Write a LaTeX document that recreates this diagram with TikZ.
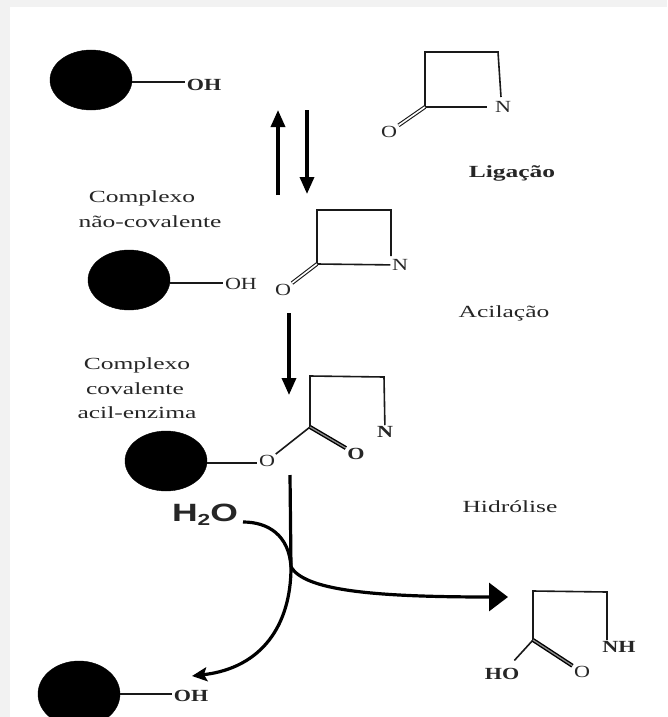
\documentclass[tikz,border=0pt]{standalone}
\usepackage{fontspec}
\setmainfont{Liberation Serif}
\newfontfamily\hfont{Liberation Sans}
\usetikzlibrary{shapes.geometric,arrows.meta}
\tikzset{
  ball/.style={ellipse,fill=black,draw=black,minimum width=82pt,minimum height=60pt,inner sep=0pt},
  atom/.style={inner sep=1pt,font=\fontsize{17}{17}\selectfont,xscale=1.3,transform shape,text=black!85},
  boldatom/.style={atom,font=\fontsize{17}{17}\selectfont\bfseries},
  lab/.style={inner sep=0pt,font=\fontsize{17}{17}\selectfont,xscale=1.5,transform shape,text=black!85},
  boldlab/.style={lab,font=\fontsize{17}{17}\selectfont\bfseries},
  bond/.style={line width=1.6pt,black!90},
  dbl/.style={line width=1.1pt,double=white,double distance=1.6pt,black!90},
  heavydbl/.style={line width=1.4pt,double=black!45,double distance=1.3pt,black},
  thick arrow/.style={line width=3.4pt,-{Triangle[length=17pt,width=14pt]}},
  curve/.style={line width=3.2pt},
}
\begin{document}
\begin{tikzpicture}[x=1pt,y=-1pt]
\useasboundingbox (0,0) rectangle (667,717);
\fill[black!5] (0,0) rectangle (667,717);
\fill[white] (10,7) rectangle (667,717);
% enzyme 1
\node[ball] (b1) at (91,80) {};
\node[boldatom] (oh1) at (204,85) {OH};
\draw[bond] (b1.east |- 0,82) -- (oh1.west |- 0,82);
% lactam 1
\coordinate (r1a) at (425,52);
\coordinate (r1b) at (498,52);
\coordinate (r1c) at (425,107);
\coordinate (r1d) at (501,97);
\node[atom] (n1) at (503,107) {N};
\node[atom] (o1) at (389,132) {O};
\draw[bond] (r1c) -- (r1a) -- (r1b) -- (r1d);
\draw[bond,shorten >=6pt] (r1c) -- (n1);
\draw[dbl] (r1c) -- (o1);
% equilibrium arrows
\coordinate (u1) at (278,195);
\coordinate (u2) at (278,110);
\coordinate (d1) at (307,110);
\coordinate (d2) at (307,194);
\draw[thick arrow] (u1) -- (u2);
\draw[thick arrow] (d1) -- (d2);
\node[boldlab] (lig) at (512,173) {Ligação};
\node[lab] (c1) at (142,198) {Complexo};
\node[lab] (c2) at (150,222) {não-covalente};
% enzyme 2
\node[ball] (b2) at (129,280) {};
\node[atom] (oh2) at (241,284) {OH};
\draw[bond] (b2.east |- 0,283) -- (oh2.west |- 0,283);
% lactam 2
\coordinate (r2a) at (317,210);
\coordinate (r2b) at (391,210);
\coordinate (r2d) at (391,256);
\coordinate (r2c) at (317,264);
\node[atom] (n2) at (400,265) {N};
\node[atom] (o2) at (283,290) {O};
\draw[bond] (r2c) -- (r2a) -- (r2b) -- (r2d) (r2c) -- (n2);
\draw[dbl] (r2c) -- (o2);
\node[lab] (aci) at (504,313) {Acilação};
\coordinate (a1) at (289,313);
\coordinate (a2) at (289,395);
\draw[thick arrow] (a1) -- (a2);
\node[lab] (c3) at (137,365) {Complexo};
\node[lab] (c4) at (135,389) {covalente};
\node[lab] (c5) at (137,413) {acil-enzima};
% enzyme 3
\node[ball] (b3) at (166,461) {};
\node[atom] (o3) at (267,461) {O};
\draw[bond] (b3.east |- 0,463) -- (o3.west |- 0,463);
\coordinate (r3a) at (310,376);
\coordinate (r3b) at (384,377);
\coordinate (r3c) at (310,427);
\node[boldatom] (n3) at (385,432) {N};
\node[boldatom] (o4) at (356,454) {O};
\draw[bond] (r3c) -- (r3a) -- (r3b) -- (n3) (r3c) -- (o3);
\draw[heavydbl] (r3c) -- (o4);
% hydrolysis
\node[lab] (hid) at (510,507) {Hidrólise};
\coordinate (v1) at (290,475);
\coordinate (v2) at (291,567);
\coordinate (tipl) at (192,676);
\coordinate (tipr) at (508,597);
\draw[line width=3.2pt] (v1) -- (v2);
\node[font=\hfont\fontsize{25}{25}\selectfont\bfseries,xscale=1.42,transform shape,inner sep=0pt,text=black!85] (h2o) at (205,515) {H\raisebox{-4pt}{\fontsize{16}{16}\selectfont 2}O};
\coordinate (hs) at (243,522);
\draw[curve] (hs) .. controls (268,522) and (289,535) .. (v2);
\draw[curve,-{Stealth[length=15pt,width=14pt,inset=3pt]}] (v2) .. controls (291,625) and (262,668) .. (tipl);
\draw[curve,-{Triangle[length=19pt,width=28pt]}] (v2) .. controls (305,590) and (370,597) .. (tipr);
% product
\coordinate (r4a) at (533,591);
\coordinate (r4b) at (607,592);
\coordinate (r4c) at (533,640);
\node[boldatom] (nh) at (619,647) {NH};
\node[boldatom] (ho) at (502,674) {HO};
\node[atom] (o5) at (582,672) {O};
\draw[bond] (r4c) -- (r4a) -- (r4b) -- (r4b |- nh.north);
\draw[bond,shorten >=9pt] (r4c) -- (ho);
\draw[heavydbl] (r4c) -- (o5);
% enzyme 4
\node[ball,minimum height=66pt] (b4) at (79,694) {};
\node[boldatom] (oh4) at (191,696) {OH};
\draw[bond] (b4.east |- 0,694) -- (oh4.west |- 0,694);
\end{tikzpicture}
\end{document}
